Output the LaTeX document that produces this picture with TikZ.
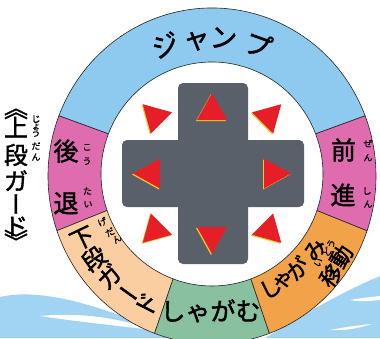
\documentclass[tikz,border=0pt]{standalone}
\usepackage{fontspec}
\newfontfamily\jp{Noto Sans CJK JP}[FakeBold=1.6]
\newfontfamily\jpr{Noto Sans CJK JP}[FakeBold=0.8]
\usetikzlibrary{calc}
\definecolor{ringblue}{RGB}{142,202,240}
\definecolor{ringpink}{RGB}{224,108,176}
\definecolor{ringpeach}{RGB}{250,206,160}
\definecolor{ringgreen}{RGB}{136,192,160}
\definecolor{ringorange}{RGB}{242,162,72}
\definecolor{padgray}{RGB}{90,96,106}
\definecolor{arrowred}{RGB}{230,30,40}
\definecolor{arrowyellow}{RGB}{240,200,40}
\definecolor{water}{RGB}{160,212,242}
\newcommand\ringseg[3]{\path[seg,fill=#3] ($(C)+(#1:164pt and 168pt)$) arc[start angle=#1,end angle=#2,x radius=164pt,y radius=168pt] -- ($(PC)+(#2:111pt and 112pt)$) arc[start angle=#2,end angle=#1,x radius=111pt,y radius=112pt] -- cycle;}
\newcommand\arcch[6]{\node[#1,rotate=#4] (#6) at ($(C)+(#2:#3pt)$) {#5};}
\begin{document}
\begin{tikzpicture}[x=1pt,y=1pt,
  seg/.style={draw=black!85,line width=0.6pt,line join=round},
  jb/.style={inner sep=0pt,font=\jp\fontsize{27}{27}\selectfont,text height=23.8pt,text depth=3.2pt},
  jm/.style={inner sep=0pt,font=\jp\fontsize{25}{25}\selectfont,text height=22pt,text depth=3pt},
  js/.style={inner sep=0pt,font=\jp\fontsize{24}{24}\selectfont,text height=21.1pt,text depth=2.9pt},
  jo/.style={inner sep=0pt,font=\jp\fontsize{22}{22}\selectfont,text height=19.4pt,text depth=2.6pt},
  rb/.style={inner sep=0pt,font=\jpr\fontsize{9}{9}\selectfont,text height=7.9pt,text depth=1.1pt}]
\useasboundingbox (0,0) rectangle (380,-338);
\fill[white] (0,0) rectangle (380,-338);
% water
\fill[water] (0,-297) .. controls (30,-290) and (70,-298) .. (110,-312) .. controls (135,-320) and (155,-326) .. (175,-334) -- (175,-338) -- (0,-338) -- cycle;
\fill[white] (40,-316) .. controls (80,-312) and (120,-318) .. (152,-330) .. controls (120,-326) and (80,-322) .. (40,-316) -- cycle;
\fill[water] (265,-338) .. controls (295,-320) and (335,-295) .. (380,-276) -- (380,-338) -- cycle;
\fill[white] (350,-300) .. controls (360,-298) and (372,-297) .. (380,-296) -- (380,-300) .. controls (370,-301) and (360,-302) .. (350,-300) -- cycle;
\fill[white] (330,-330) .. controls (345,-327) and (360,-325) .. (372,-324) .. controls (360,-328) and (345,-331) .. (330,-330) -- cycle;
\coordinate (C) at (212,-176);
\coordinate (PC) at (212,-174);
\coordinate (P) at (212,-173.5);
% ring
\ringseg{21}{159}{ringblue}
\ringseg{159}{199}{ringpink}
\ringseg{199}{249.5}{ringpeach}
\ringseg{249.5}{290.5}{ringgreen}
\ringseg{290.5}{341}{ringorange}
\ringseg{341}{381}{ringpink}
% d-pad
\fill[padgray,rounded corners=5pt] (178,-83) rectangle (248,-264);
\fill[padgray,rounded corners=5pt] (122,-140) rectangle (304,-207);
% triangles
\foreach \a/\d/\b in {90/80.5/53.5,270/80.5/53.5,180/79/52,0/79/52,45/98/71.5,135/98/71.5,225/98/71.5,315/98/71.5}{
  \coordinate (ta) at ($(P)+(\a:\d pt)$);
  \coordinate (tb) at ($(P)+(\a:\b pt)+(\a+90:15pt)$);
  \coordinate (tc) at ($(P)+(\a:\b pt)+(\a-90:15pt)$);
  \fill[arrowyellow] ($(ta)+(-1,-1)$) -- ($(tb)+(-1,-1)$) -- ($(tc)+(-1,-1)$) -- cycle;
  \fill[arrowred] (ta) -- (tb) -- (tc) -- cycle;
}
% jump
\arcch{jb}{109.7}{139}{19.7}{ジ}{j1}
\arcch{jb}{96.5}{139}{6.5}{ャ}{j2}
\arcch{jb}{85.2}{139}{-4.8}{ン}{j3}
\arcch{jb}{70.6}{139}{-19.4}{プ}{j4}
% left pink
\node[jm] (ko) at (66,-151) {後};
\node[rb] (ko1) at (87,-147) {こ};
\node[rb] (ko2) at (87,-161) {う};
\node[jm] (tai) at (66,-203) {退};
\node[rb] (tai1) at (87.5,-191) {た};
\node[rb] (tai2) at (88,-204) {い};
% right pink
\node[jm] (zen) at (343.5,-150) {前};
\node[rb] (zen1) at (368,-143.5) {ぜ};
\node[rb] (zen2) at (368,-157.5) {ん};
\node[jm] (shin) at (343,-195) {進};
\node[rb] (shin1) at (367,-191) {し};
\node[rb] (shin2) at (368,-204) {ん};
% peach
\arcch{js}{205.5}{144}{25.5}{下}{g1}
\arcch{js}{215}{144}{35}{段}{g2}
\arcch{js}{224.5}{144}{44.5}{ガ}{g3}
\arcch{js}{234.5}{144}{144.5}{ー}{g4}
\arcch{js}{243}{144}{63}{ド}{g5}
\arcch{rb}{202.7}{119}{22.7}{げ}{gr1}
\arcch{rb}{208.8}{116.5}{28.8}{だ}{gr2}
\arcch{rb}{213.5}{114}{33.5}{ん}{gr3}
% green
\node[jm] (shagamu) at (210.5,-311) {しゃがむ};
% orange
\arcch{jo}{-62.4}{126}{27.6}{し}{o1}
\arcch{jo}{-55.6}{124}{34.4}{ゃ}{o2}
\arcch{jo}{-47.3}{126}{42.7}{が}{o3}
\arcch{jo}{-35.5}{126}{54.5}{み}{o4}
\arcch{jo}{-39.9}{155}{50.1}{移}{o5}
\arcch{jo}{-31.9}{152}{58.1}{動}{o6}
\arcch{rb}{-39.1}{137}{50.9}{い}{or1}
\arcch{rb}{-33.4}{138}{56.6}{ど}{or2}
\arcch{rb}{-29.6}{137}{60.4}{う}{or3}
% left label
\node[js,rotate=-90] (b1) at (16,-108) {《};
\node[js] (l1) at (16,-127.5) {上};
\node[js] (l2) at (16,-155) {段};
\node[js] (l3) at (16,-181) {ガ};
\node[js,rotate=90] (l4) at (16,-204) {ー};
\node[js] (l5) at (16,-226) {ド};
\node[js,rotate=-90] (b2) at (16,-241) {》};
\node[rb] (lr1) at (36,-119) {じ};
\node[rb] (lr2) at (36,-125.5) {ょ};
\node[rb] (lr3) at (36,-133) {う};
\node[rb] (lr4) at (36,-146) {だ};
\node[rb] (lr5) at (36,-157) {ん};
\end{tikzpicture}
\end{document}
